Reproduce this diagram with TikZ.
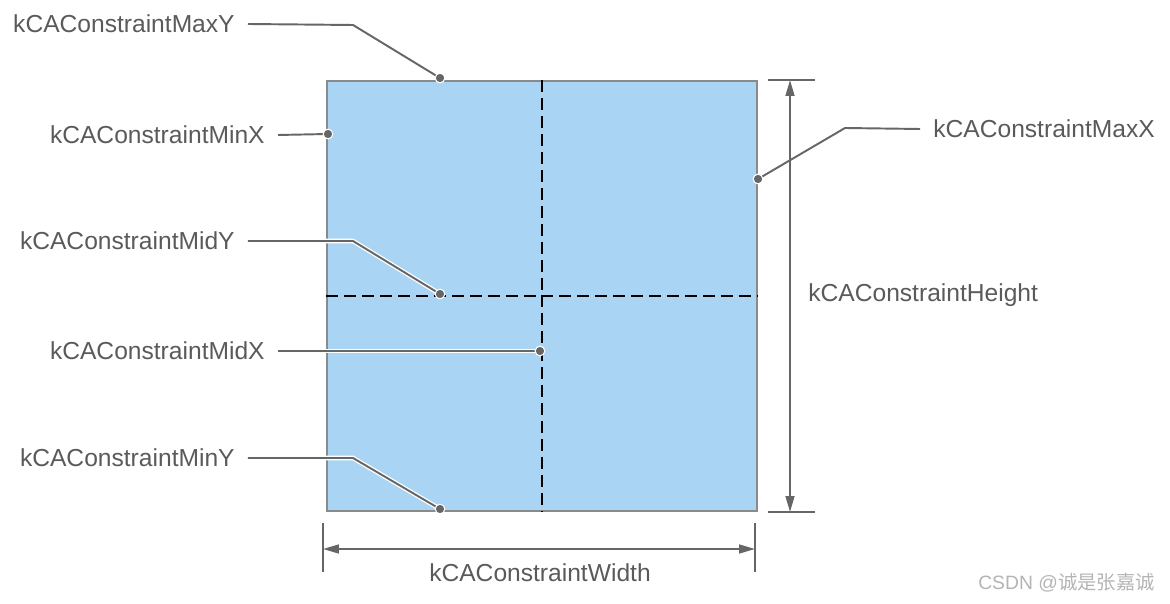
\documentclass[tikz,border=0pt]{standalone}
\usepackage{fontspec}
\setmainfont{Liberation Sans}
\newfontfamily\cjkfont{Noto Sans CJK SC}
\usetikzlibrary{arrows.meta,positioning}
\definecolor{layerblue}{HTML}{A9D4F3}
\definecolor{edgegray}{HTML}{8A8A8A}
\definecolor{linegray}{HTML}{666666}
\definecolor{labelgray}{HTML}{5A5A5A}
\definecolor{markgray}{HTML}{B4B4B4}

\begin{document}
\begin{tikzpicture}[
  x=0.02cm, y=-0.02cm,
  lbl/.style={font=\fontsize{14}{16}\selectfont, text=labelgray, inner sep=0pt},
  layer/.style={draw=edgegray, fill=layerblue, line width=0.7pt, minimum width=8.6cm, minimum height=8.6cm, inner sep=0pt},
  guide/.style={black, line width=1.4pt, dash pattern=on 6.8pt off 3.4pt},
  leader/.style={draw=linegray, line width=1.1pt, preaction={draw=white, line width=2.6pt}},
  pin/.style={circle, fill=linegray, draw=white, line width=0.6pt, minimum size=5.5pt, inner sep=0pt},
  dim/.style={draw=linegray, line width=1.1pt},
  dimarrow/.style={dim, {Triangle[length=9pt, width=5pt]}-{Triangle[length=9pt, width=5pt]}}
]
\useasboundingbox (0,0) rectangle (1170,604);

% the layer and its mid lines
\node[layer] (layer) at (542,296) {};
\draw[guide] (layer.north) -- (layer.south);
\draw[guide] (layer.west) -- (layer.east);

% labels
\node[lbl, anchor=east] (maxY) at (235,24) {kCAConstraintMaxY};
\node[lbl, anchor=east] (minX) at (265,135) {kCAConstraintMinX};
\node[lbl, anchor=east] (midY) at (235,241) {kCAConstraintMidY};
\node[lbl, anchor=east] (midX) at (265,351) {kCAConstraintMidX};
\node[lbl, anchor=east] (minY) at (235,458) {kCAConstraintMinY};
\node[lbl, anchor=west] (maxX) at (933,129) {kCAConstraintMaxX};
\node[lbl, anchor=west] (height) at (808,295) {kCAConstraintHeight};
\node[lbl] (width) at (540,573) {kCAConstraintWidth};

% pin points
\coordinate (pMaxY) at (440,78);
\coordinate (pMinX) at (328,134);
\coordinate (pMidY) at (440,294);
\coordinate (pMidX) at (540,351);
\coordinate (pMinY) at (440,509);
\coordinate (pMaxX) at (758,179);

% leaders
\draw[leader] ([xshift=0.26cm]maxY.east) -- (353,25) -- (pMaxY);
\draw[leader] ([xshift=0.26cm]minX.east) -- (pMinX);
\draw[leader] ([xshift=0.26cm]midY.east) -- (353,241) -- (pMidY);
\draw[leader] ([xshift=0.26cm]midX.east) -- (pMidX);
\draw[leader] ([xshift=0.26cm]minY.east) -- (353,458) -- (pMinY);
\draw[leader] ([xshift=-0.26cm]maxX.west) -- (845,128) -- (pMaxX);
\foreach \p in {pMaxY,pMinX,pMidY,pMidX,pMinY,pMaxX}
  \node[pin] at (\p) {};

% height dimension
\coordinate (hTop) at (790,80);
\coordinate (hBot) at (790,512);
\draw[dim] (768,80) -- (815,80);
\draw[dim] (768,512) -- (815,512);
\draw[dimarrow] (hTop) -- (hBot);

% width dimension
\coordinate (wLeft) at (323,549);
\coordinate (wRight) at (755,549);
\draw[dim] (323,523) -- (323,572);
\draw[dim] (755,523) -- (755,572);
\draw[dimarrow] (wLeft) -- (wRight);

% watermark
\node[font=\fontsize{11}{13}\selectfont, text=markgray, inner sep=0pt, anchor=east] (mark) at (1155,583) {CSDN @{\cjkfont 诚是张嘉诚}};
\end{tikzpicture}
\end{document}
